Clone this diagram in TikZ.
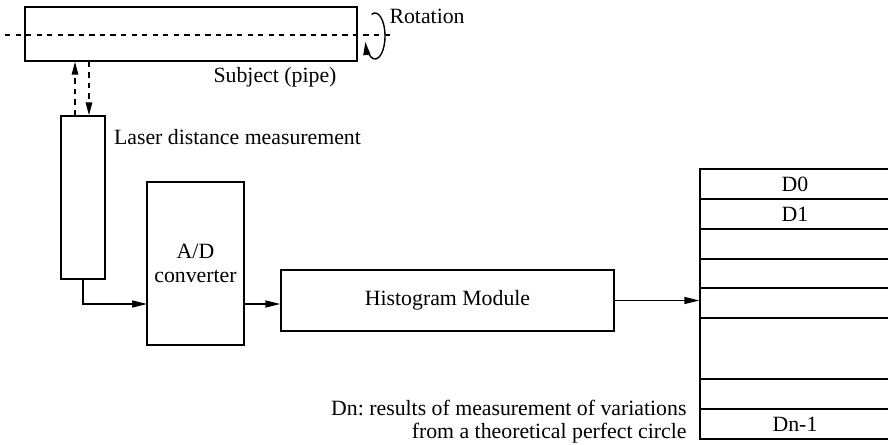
\documentclass[tikz,border=0pt]{standalone}
\usepackage{fontspec}
\setmainfont{Liberation Serif}
\usetikzlibrary{arrows.meta, positioning}
\frenchspacing

\begin{document}
\begin{tikzpicture}[
  line width=0.8pt,
  every node/.style={font=\fontsize{12.4}{14}\selectfont},
  block/.style={draw,align=center,inner sep=1.5pt},
  signal/.style={-{Triangle[length=3mm,width=1.4mm]}},
  beam/.style={dashed,-{Triangle[length=2.6mm,width=1.3mm]}}
]
\useasboundingbox (0,0) rectangle (17.76,-8.9);
% pipe
\node[block,minimum width=6.64cm,minimum height=1.08cm] (pipe) at (3.82,-0.68) {};
\draw[dashed,line width=0.6pt] (0.1,-0.70) -- (7.9,-0.70);
\draw[-{Triangle[length=2.6mm,width=1.4mm]}] (7.432,-0.288) arc[start angle=110,end angle=-165,x radius=0.2cm,y radius=0.46cm];
\node[anchor=west] (rot) at (7.66,-0.32) {Rotation};
\node (subj) at (5.5,-1.54) {Subject (pipe)};
% laser and converter
\node[block,minimum width=0.88cm,minimum height=3.26cm] (laser) at (1.66,-3.95) {};
\node[anchor=west] (lasertxt) at (2.15,-2.74) {Laser distance measurement};
\draw[beam] ([xshift=-1.6mm]laser.north) -- ([xshift=-1.6mm]laser.north |- pipe.south);
\draw[beam] ([xshift=1.2mm]laser.north |- pipe.south) -- ([xshift=1.2mm]laser.north);
\node[block,minimum width=1.94cm,minimum height=3.26cm] (adc) at (3.91,-5.27) {A/D\\converter};
\node[block,minimum width=6.66cm,minimum height=1.22cm] (hist) at (8.95,-6.01) {Histogram Module};
\coordinate (adin) at (2.94,-6.08);
\draw[signal] (laser.south) |- (adin);
\draw[signal] (adin -| adc.east) -- (adin -| hist.west);
% result table
\node[draw,minimum width=3.8cm,minimum height=5.4cm,inner sep=0pt] (tab) at (15.9,-6.08) {};
\foreach \y in {-3.98,-4.58,-5.18,-5.76,-6.36,-7.58,-8.18}
  \draw (14,\y) -- (17.8,\y);
\node (d0) at (15.9,-3.68) {D0};
\node (d1) at (15.9,-4.28) {D1};
\node (dn) at (15.9,-8.48) {Dn-1};
\draw[signal] (hist.east) -- (hist.east -| tab.west);
\node[anchor=east,align=right,font=\fontsize{12.4}{13}\selectfont] (note) at (13.86,-8.43) {Dn: results of measurement of variations\\from a theoretical perfect circle};
\end{tikzpicture}
\end{document}
